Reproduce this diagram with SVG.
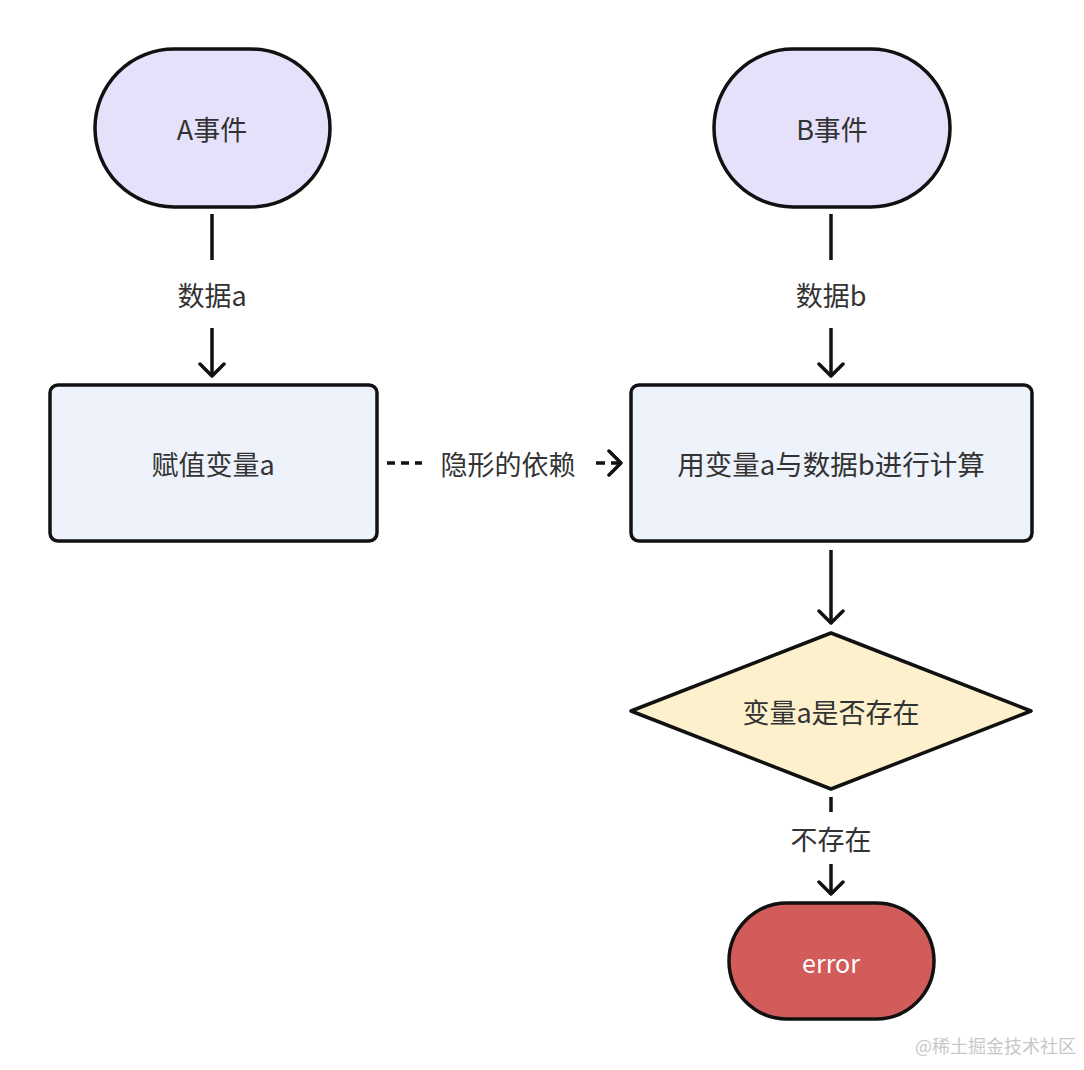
<svg xmlns="http://www.w3.org/2000/svg" width="1084" height="1070" viewBox="0 0 1084 1070">
<style>
.n{stroke:#111;stroke-width:3.5}
.t{font-family:"Noto Sans CJK SC","Noto Sans",sans-serif;font-size:27px;fill:#333;text-anchor:middle;dominant-baseline:central}
.c{stroke:#111;stroke-width:3.5;fill:none}
</style>
<defs>
<marker id="ar" markerWidth="16" markerHeight="28" refX="14" refY="14" orient="auto" markerUnits="userSpaceOnUse">
<path d="M2,2 L14,14 L2,26" fill="none" stroke="#111" stroke-width="3.5" stroke-linecap="round" stroke-linejoin="round"/>
</marker>
</defs>
<rect width="1084" height="1070" fill="#fff"/>
<g id="connectors">
<line class="c" x1="212" y1="214" x2="212" y2="260"/>
<line class="c" x1="212" y1="328" x2="212" y2="376" marker-end="url(#ar)"/>
<text class="t" x="212" y="294">数据a</text>
<line class="c" x1="831" y1="214" x2="831" y2="260"/>
<line class="c" x1="831" y1="328" x2="831" y2="376" marker-end="url(#ar)"/>
<text class="t" x="831" y="294">数据b</text>
<line class="c" x1="387" y1="463" x2="425" y2="463" stroke-dasharray="8 6 8 6 7 4 1.5 20"/>
<line class="c" x1="596" y1="463" x2="621" y2="463" stroke-dasharray="9 6 20" marker-end="url(#ar)"/>
<text class="t" x="508" y="463">隐形的依赖</text>
<line class="c" x1="831" y1="550" x2="831" y2="623" marker-end="url(#ar)"/>
<line class="c" x1="831" y1="797" x2="831" y2="812"/>
<line class="c" x1="831" y1="864" x2="831" y2="894" marker-end="url(#ar)"/>
<text class="t" x="831" y="838">不存在</text>
</g>
<g id="nodeA">
<rect class="n" x="95" y="49" width="235" height="158" rx="79" fill="#e6e1fb"/>
<text class="t" x="212" y="128">A事件</text>
</g>
<g id="nodeB">
<rect class="n" x="714" y="49" width="236" height="158" rx="79" fill="#e6e1fb"/>
<text class="t" x="832" y="128">B事件</text>
</g>
<g id="assign">
<rect class="n" x="50" y="385" width="327" height="156" rx="8" fill="#eef2fa"/>
<text class="t" x="213" y="463">赋值变量a</text>
</g>
<g id="compute">
<rect class="n" x="631" y="385" width="401" height="156" rx="8" fill="#eef2fa"/>
<text class="t" x="831" y="463" style="font-size:27.5px">用变量a与数据b进行计算</text>
</g>
<g id="decision">
<polygon class="n" points="831,633 1031,711 831,789 631,711" stroke-linejoin="round" fill="#fdf1cd"/>
<text class="t" x="831" y="711">变量a是否存在</text>
</g>
<g id="error">
<rect class="n" x="729" y="903" width="205" height="116" rx="58" fill="#d15c59"/>
<text class="t" x="831" y="962" style="fill:#fff;font-size:25px">error</text>
</g>
<text x="1076" y="1053" style="font-family:'Noto Sans CJK SC',sans-serif;font-size:18px;fill:#c8c8c8;text-anchor:end">@稀土掘金技术社区</text>
</svg>
